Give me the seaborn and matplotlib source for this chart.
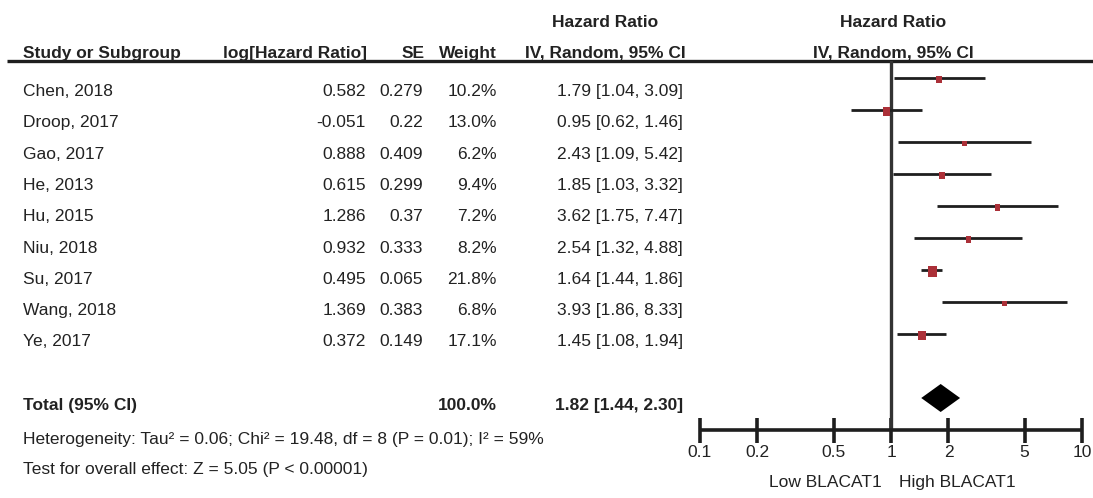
import numpy as np
import pandas as pd
import matplotlib
matplotlib.use("Agg")
import matplotlib.pyplot as plt
import matplotlib.transforms as mtransforms
from matplotlib.path import Path
import seaborn as sns

studies = ["Chen, 2018", "Droop, 2017", "Gao, 2017", "He, 2013", "Hu, 2015",
           "Niu, 2018", "Su, 2017", "Wang, 2018", "Ye, 2017"]
log_hr = ["0.582", "-0.051", "0.888", "0.615", "1.286", "0.932", "0.495", "1.369", "0.372"]
se = ["0.279", "0.22", "0.409", "0.299", "0.37", "0.333", "0.065", "0.383", "0.149"]
weight = [10.2, 13.0, 6.2, 9.4, 7.2, 8.2, 21.8, 6.8, 17.1]
hr = [1.79, 0.95, 2.43, 1.85, 3.62, 2.54, 1.64, 3.93, 1.45]
lo = [1.04, 0.62, 1.09, 1.03, 1.75, 1.32, 1.44, 1.86, 1.08]
hi = [3.09, 1.46, 5.42, 3.32, 7.47, 4.88, 1.86, 8.33, 1.94]
total_hr, total_lo, total_hi = 1.82, 1.44, 2.30
ticks = [0.1, 0.2, 0.5, 1, 2, 5, 10]
tick_labels = ["0.1", "0.2", "0.5", "1", "2", "5", "10"]
heterogeneity = "Heterogeneity: Tau² = 0.06; Chi² = 19.48, df = 8 (P = 0.01); I² = 59%"
overall = "Test for overall effect: Z = 5.05 (P < 0.00001)"

sns.set_theme(style="white")
plt.rcParams['font.family'] = ['Liberation Sans', 'DejaVu Sans']

W, H = 1093, 498
fig = plt.figure(figsize=(W / 100, H / 100), dpi=100)
ax = fig.add_axes([0, 0, 1, 1])
ax.set_xlim(0, W)
ax.set_ylim(H, 0)
ax.axis("off")

txt = "#222222"
ink = "#1e1e1e"
fs = 12.5

text_rows = [96 + i * 31.3 for i in range(len(studies))]
forest_rows = [77.5 + i * 32 for i in range(len(studies))]
total_text_y = 410
total_forest_y = 398

def t(x, y, s, ha="left", bold=False):
    ax.text(x, y, s, fontsize=fs, fontweight="bold" if bold else "normal",
            color=txt, va="baseline", ha=ha)

hy = 57.5
t(23, hy, "Study or Subgroup", bold=True)
t(367, hy, "log[Hazard Ratio]", "right", True)
t(425, hy, "SE", "right", True)
t(497, hy, "Weight", "right", True)
t(605, 27, "Hazard Ratio", "center", True)
t(605, hy, "IV, Random, 95% CI", "center", True)
t(893, 27, "Hazard Ratio", "center", True)
t(893, hy, "IV, Random, 95% CI", "center", True)
ax.plot([7, W], [61, 61], color=ink, lw=2.4, solid_capstyle="butt")

for i, y in enumerate(text_rows):
    t(23, y, studies[i])
    t(366, y, log_hr[i], "right")
    t(423, y, se[i], "right")
    t(497, y, f"{weight[i]:.1f}%", "right")
    t(683, y, f"{hr[i]:.2f} [{lo[i]:.2f}, {hi[i]:.2f}]", "right")

t(23, total_text_y, "Total (95% CI)", bold=True)
t(497, total_text_y, "100.0%", "right", True)
t(683, total_text_y, f"{total_hr:.2f} [{total_lo:.2f}, {total_hi:.2f}]", "right", True)
t(23, 444, heterogeneity)
t(23, 474, overall)

x0, x1 = 700, 1082
ytop, ybot = 61, 430
fa = fig.add_axes([x0 / W, 1 - ybot / H, (x1 - x0) / W, (ybot - ytop) / H])
fa.set_xscale("log")
fa.set_xlim(0.1, 10)
fa.set_ylim(ybot, ytop)
fa.patch.set_alpha(0)
for s in ["top", "left", "right"]:
    fa.spines[s].set_visible(False)
fa.spines["bottom"].set_linewidth(2.6)
fa.spines["bottom"].set_color(ink)
fa.spines["bottom"].set_capstyle("butt")
fa.set_yticks([])
fa.set_xticks(ticks)
fa.set_xticklabels(tick_labels)
fa.minorticks_off()
fa.tick_params(axis="x", direction="inout", length=18, width=2.6, color=ink,
               labelsize=fs, labelcolor=txt, pad=2, bottom=True)
fa.axvline(1, color="#333333", lw=2.4, zorder=1)

for i, y in enumerate(forest_rows):
    fa.plot([lo[i], hi[i]], [y, y], color=ink, lw=2.0, zorder=2, solid_capstyle="butt")

# slightly tall square marker, as in the reference
box = Path([(-0.42, -0.5), (0.42, -0.5), (0.42, 0.5), (-0.42, 0.5), (-0.42, -0.5)],
           [Path.MOVETO, Path.LINETO, Path.LINETO, Path.LINETO, Path.CLOSEPOLY])
df = pd.DataFrame({"hr": hr, "y": forest_rows, "w": weight})
sns.scatterplot(data=df, x="hr", y="y", size="w", sizes=(16.8, 59.1), marker=box,
                color="#ab3038", edgecolor="none", linewidth=0, legend=False, ax=fa, zorder=3)
off = mtransforms.ScaledTranslation(0, -0.02, fig.dpi_scale_trans)
for coll in fa.collections:
    coll.set_transform(coll.get_transform() + off)
fa.set_xlabel("")
fa.set_ylabel("")

dh = 14
fa.fill([total_lo, total_hr, total_hi, total_hr],
        [total_forest_y, total_forest_y - dh, total_forest_y, total_forest_y + dh],
        color="black", lw=0, zorder=3)

t(882, 487, "Low BLACAT1", "right")
t(899, 487, "High BLACAT1", "left")

fig.savefig("out.png", dpi=100)
